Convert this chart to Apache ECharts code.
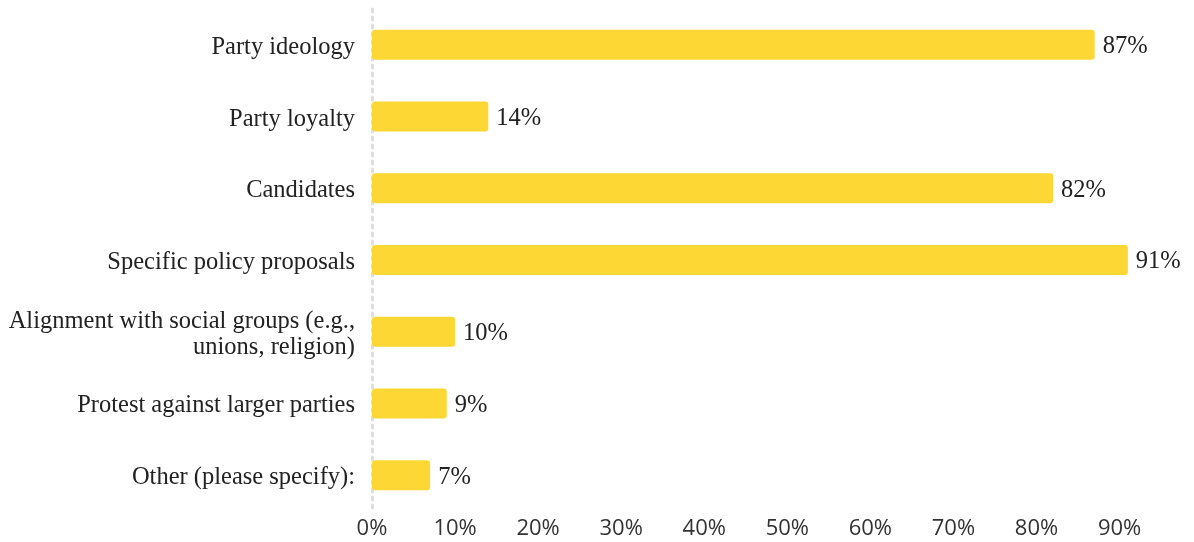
<!DOCTYPE html>
<html>
<head>
<meta charset="utf-8">
<script src="https://cdn.jsdelivr.net/npm/echarts@6/dist/echarts.min.js"></script>
<style>
  html, body { margin: 0; padding: 0; background: #ffffff; }
  #chart { width: 1194px; height: 542px; }
</style>
</head>
<body>
<div id="chart"></div>
<script>
// Reasons given for choosing a party (share of respondents, %)
const categories = [
  'Party ideology',
  'Party loyalty',
  'Candidates',
  'Specific policy proposals',
  'Alignment with social groups (e.g.,\nunions, religion)',
  'Protest against larger parties',
  'Other (please specify):'
];
const values = [87, 14, 82, 91, 10, 9, 7];
const tickValues = [0, 10, 20, 30, 40, 50, 60, 70, 80, 90];

const serif = '"Liberation Serif", "Times New Roman", serif';

const chart = echarts.init(document.getElementById('chart'));
chart.setOption({
  animation: false,
  backgroundColor: '#ffffff',
  grid: { left: 372, right: 0, top: 9, bottom: 31, containLabel: false },
  xAxis: {
    type: 'value',
    min: 0,
    max: 98.6,
    interval: 10,
    splitLine: { show: false },
    axisLine: { show: false },
    axisTick: { show: false },
    axisLabel: {
      margin: 7,
      color: '#333333',
      fontFamily: '"Open Sans", "Noto Sans", sans-serif',
      fontSize: 22,
      formatter: v => tickValues.includes(v) ? v + '%' : ''
    }
  },
  yAxis: {
    type: 'category',
    inverse: true,
    data: categories,
    axisTick: { show: false },
    axisLine: {
      show: true,
      lineStyle: { color: '#dedede', width: 3, type: [3, 5] }
    },
    axisLabel: {
      margin: 17,
      align: 'right',
      // each line is a rich fragment so the block can sit a little lower
      formatter: v => v.split('\n').map(s => '{c|' + s + '}').join('\n'),
      rich: {
        c: {
          color: '#222222',
          fontFamily: serif,
          fontSize: 24.5,
          lineHeight: 26,
          padding: [5, 0, 0, 0]
        }
      }
    }
  },
  series: [{
    type: 'bar',
    data: values,
    barWidth: 30,
    itemStyle: { color: '#FDD835', borderRadius: 3 },
    label: {
      show: true,
      position: 'right',
      distance: 8,
      offset: [0, 2],
      color: '#222222',
      fontFamily: serif,
      fontSize: 24.5,
      formatter: p => p.value + '%'
    }
  }]
});
</script>
</body>
</html>
